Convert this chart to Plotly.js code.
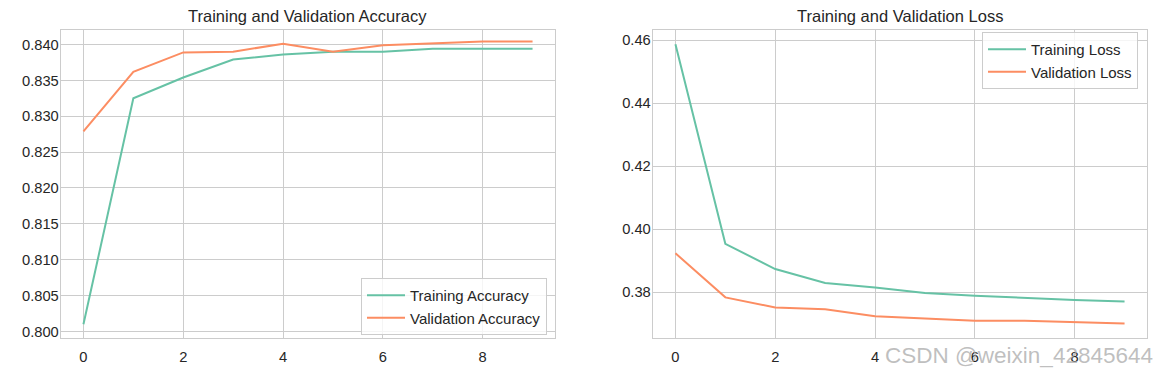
<!DOCTYPE html>
<html>
<head>
<meta charset="utf-8">
<script src="https://cdn.plot.ly/plotly-3.0.1.min.js"></script>
<style>html,body{margin:0;padding:0;background:#fff;}#chart{width:1156px;height:375px;}</style>
</head>
<body>
<div id="chart"></div>
<script>
const epochs = [0, 1, 2, 3, 4, 5, 6, 7, 8, 9];
const trainAcc = [0.8010, 0.8325, 0.8354, 0.8379, 0.8386, 0.8390, 0.8390, 0.8394, 0.8394, 0.8394];
const valAcc   = [0.8279, 0.8362, 0.8389, 0.8390, 0.8401, 0.8390, 0.8399, 0.8401, 0.8404, 0.8404];
const trainLoss = [0.4587, 0.3953, 0.3873, 0.3829, 0.3814, 0.3797, 0.3788, 0.3781, 0.3775, 0.3770];
const valLoss   = [0.3923, 0.3783, 0.3751, 0.3745, 0.3723, 0.3717, 0.3709, 0.3709, 0.3705, 0.3700];
const titles = ["Training and Validation Accuracy", "Training and Validation Loss"];
const names = ["Training Accuracy", "Validation Accuracy", "Training Loss", "Validation Loss"];
const watermark = "CSDN @weixin_42845644";

const green = "#66c2a5", orange = "#fc8d62", txt = "#262626", grid = "#cccccc";
const W = 1156, H = 375;
const FONT = "Liberation Sans, Arial, sans-serif";

const traces = [
  {x: epochs, y: trainAcc, name: names[0], mode: "lines", line: {color: green, width: 2}, xaxis: "x", yaxis: "y", legend: "legend"},
  {x: epochs, y: valAcc, name: names[1], mode: "lines", line: {color: orange, width: 2}, xaxis: "x", yaxis: "y", legend: "legend"},
  {x: epochs, y: trainLoss, name: names[2], mode: "lines", line: {color: green, width: 2}, xaxis: "x2", yaxis: "y2", legend: "legend2"},
  {x: epochs, y: valLoss, name: names[3], mode: "lines", line: {color: orange, width: 2}, xaxis: "x2", yaxis: "y2", legend: "legend2"}
];

function ax(extra) {
  return Object.assign({
    showgrid: true, gridcolor: grid, gridwidth: 1,
    zeroline: false, showline: true, linecolor: grid, linewidth: 1.25, mirror: true,
    ticks: "", tickfont: {family: FONT, size: 14.7, color: txt}
  }, extra);
}

const yTop = 1 - 30 / H, yBot = 1 - 338 / H;
const legendStyle = {
  xanchor: "left", yanchor: "top",
  bgcolor: "rgba(255,255,255,0.8)", bordercolor: grid, borderwidth: 1,
  font: {family: FONT, size: 15, color: txt}, tracegroupgap: 0, itemwidth: 38
};
const layout = {
  width: W, height: H,
  margin: {l: 0, r: 0, t: 0, b: 0},
  paper_bgcolor: "#ffffff", plot_bgcolor: "#ffffff",
  font: {family: FONT, color: txt},
  showlegend: true,
  xaxis: ax({domain: [61 / W, 555 / W], range: [-0.45, 9.45], dtick: 2, tick0: 0, anchor: "y", ticklabelstandoff: 5}),
  yaxis: ax({domain: [yBot, yTop], range: [0.79909, 0.84202], dtick: 0.005, tick0: 0.8, tickformat: ".3f", anchor: "x", ticklabelstandoff: -2}),
  xaxis2: ax({domain: [653 / W, 1147 / W], range: [-0.45, 9.45], dtick: 2, tick0: 0, anchor: "y2", ticklabelstandoff: 5}),
  yaxis2: ax({domain: [yBot, yTop], range: [0.3654, 0.4632], dtick: 0.02, tick0: 0.36, tickformat: ".2f", anchor: "x2", ticklabelstandoff: -2}),
  legend: Object.assign({x: 361 / W, y: 1 - 278 / H}, legendStyle),
  legend2: Object.assign({x: 982 / W, y: 1 - 32 / H}, legendStyle),
  annotations: [
    {text: titles[0], xref: "paper", yref: "paper", x: (61 + 555) / 2 / W, y: 1 - 16 / H, xanchor: "center", yanchor: "middle", showarrow: false, font: {family: FONT, size: 16.5, color: txt}},
    {text: titles[1], xref: "paper", yref: "paper", x: (653 + 1147) / 2 / W, y: 1 - 16 / H, xanchor: "center", yanchor: "middle", showarrow: false, font: {family: FONT, size: 16.5, color: txt}},
    {text: watermark, xref: "paper", yref: "paper", x: 1155 / W, y: 1 - 355 / H, xanchor: "right", yanchor: "middle", showarrow: false, font: {family: FONT, size: 22.5, color: "rgba(170,170,170,0.75)"}}
  ]
};

Plotly.newPlot("chart", traces, layout, {displayModeBar: false, staticPlot: true});
</script>
</body>
</html>
